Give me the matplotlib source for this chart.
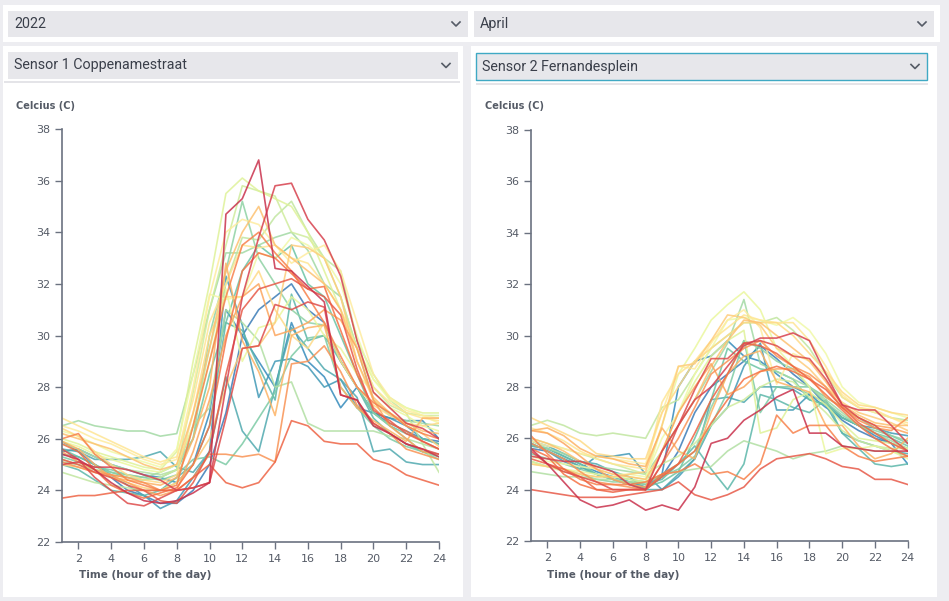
import numpy as np
import matplotlib
matplotlib.use("Agg")
import matplotlib.pyplot as plt
from matplotlib.patches import Rectangle
from matplotlib.lines import Line2D

# --- DATA ---
hours = list(range(1, 25))
x_ticks = list(range(2, 25, 2))
y_ticks = list(range(22, 39, 2))

year_label = "2022"
month_label = "April"
sensor_left = "Sensor 1 Coppenamestraat"
sensor_right = "Sensor 2 Fernandesplein"
y_title = "Celcius (C)"
x_title = "Time (hour of the day)"

# one row per day of April, hourly temperature (C)
temps_left = [
    [25.4, 25.2, 24.8, 24.3, 23.9, 23.6, 23.5, 23.6, 23.9, 24.3, 34.7, 35.3, 36.8, 32.6, 32.5, 31.9, 31.3, 27.7, 27.5, 26.5, 26.2, 25.8, 25.6, 25.3],
    [25.0, 25.1, 24.9, 24.9, 24.8, 24.6, 24.4, 24.0, 24.1, 24.3, 28.0, 31.5, 33.8, 35.8, 35.9, 34.5, 33.7, 32.3, 29.8, 27.8, 27.2, 26.6, 26.4, 26.0],
    [25.6, 25.2, 24.5, 24.0, 23.5, 23.4, 23.7, 24.0, 24.1, 24.3, 26.8, 29.5, 29.6, 31.2, 31.0, 31.3, 31.1, 27.7, 27.5, 26.6, 26.2, 25.8, 25.6, 25.4],
    [25.2, 25.0, 24.7, 24.5, 24.2, 24.0, 23.6, 23.5, 24.3, 25.5, 28.5, 31.0, 31.8, 32.0, 32.2, 31.8, 31.5, 30.8, 28.7, 27.1, 26.7, 26.2, 25.9, 25.6],
    [23.7, 23.8, 23.8, 23.9, 24.0, 24.0, 24.0, 24.0, 24.5, 25.0, 24.3, 24.1, 24.3, 25.1, 26.7, 26.5, 25.9, 25.8, 25.8, 25.2, 25.0, 24.6, 24.4, 24.2],
    [25.8, 25.5, 24.8, 24.2, 23.9, 23.7, 23.9, 24.1, 25.0, 26.5, 29.8, 32.5, 33.2, 33.0, 32.4, 31.8, 31.9, 30.2, 28.5, 27.2, 26.6, 26.3, 25.9, 25.6],
    [26.0, 26.2, 25.4, 24.9, 24.4, 24.2, 24.0, 24.2, 26.5, 29.0, 31.5, 33.5, 34.0, 33.2, 32.5, 31.5, 30.5, 29.2, 28.0, 27.4, 27.0, 26.5, 26.2, 26.0],
    [25.1, 24.9, 24.7, 24.6, 24.5, 24.3, 24.0, 24.0, 24.5, 25.4, 25.4, 25.3, 25.4, 25.1, 28.9, 29.0, 29.6, 28.6, 27.3, 26.6, 26.2, 25.6, 25.4, 25.2],
    [25.5, 25.1, 24.8, 24.6, 24.3, 24.0, 23.8, 24.0, 25.5, 27.5, 30.0, 31.5, 32.0, 30.0, 30.2, 30.5, 31.0, 30.6, 29.5, 27.5, 26.5, 26.0, 25.5, 25.4],
    [25.9, 25.6, 25.0, 24.5, 24.4, 24.3, 24.2, 24.5, 26.0, 28.0, 32.8, 29.8, 28.6, 26.9, 30.0, 30.3, 30.4, 28.0, 27.2, 26.7, 26.3, 25.9, 26.8, 26.8],
    [26.2, 26.0, 25.8, 25.6, 25.3, 25.0, 24.8, 25.0, 27.0, 29.5, 32.5, 34.0, 35.0, 33.5, 33.0, 32.5, 32.0, 31.0, 29.0, 27.6, 27.0, 26.6, 26.3, 26.2],
    [25.0, 24.9, 24.7, 24.5, 24.3, 24.1, 24.0, 24.3, 25.0, 26.0, 28.0, 29.5, 29.6, 30.5, 33.5, 33.4, 33.0, 31.5, 29.0, 27.5, 27.0, 26.5, 26.2, 25.7],
    [26.4, 26.1, 25.5, 25.0, 24.6, 24.4, 24.3, 24.6, 27.0, 30.0, 31.5, 31.5, 32.5, 31.0, 30.0, 29.5, 30.5, 29.0, 28.0, 27.3, 26.9, 26.6, 26.5, 26.6],
    [26.8, 26.5, 26.2, 25.9, 25.6, 25.3, 25.1, 25.3, 27.5, 30.5, 32.0, 33.5, 33.4, 33.5, 33.0, 32.8, 32.0, 31.0, 29.5, 28.0, 27.4, 27.0, 26.8, 26.7],
    [26.5, 26.3, 26.0, 25.8, 25.5, 25.2, 25.0, 25.2, 28.0, 31.5, 34.0, 34.5, 34.3, 33.5, 32.8, 33.2, 33.5, 32.5, 30.5, 28.5, 27.6, 27.1, 26.9, 26.8],
    [26.3, 26.1, 25.8, 25.5, 25.3, 25.1, 24.9, 25.6, 28.5, 31.6, 31.4, 31.5, 33.2, 33.0, 33.8, 33.5, 33.0, 32.0, 30.0, 28.3, 27.5, 27.2, 26.9, 26.6],
    [25.9, 25.7, 25.4, 25.2, 25.0, 24.8, 24.7, 25.0, 26.5, 29.0, 31.8, 29.0, 30.3, 30.5, 31.5, 31.0, 30.0, 29.5, 28.5, 27.8, 27.2, 26.9, 26.5, 26.3],
    [26.0, 25.8, 25.5, 25.3, 25.1, 24.9, 24.8, 25.5, 29.0, 32.0, 35.5, 36.1, 35.6, 35.3, 35.0, 34.0, 32.5, 31.0, 29.5, 28.3, 27.6, 27.2, 27.0, 27.0],
    [25.2, 25.0, 24.8, 24.6, 24.5, 24.4, 24.5, 24.8, 27.8, 31.0, 33.5, 35.8, 35.6, 35.4, 34.0, 33.8, 33.0, 31.5, 29.5, 28.0, 27.3, 27.0, 26.9, 26.9],
    [24.7, 24.5, 24.3, 24.2, 24.1, 24.0, 24.0, 24.3, 26.5, 29.5, 32.0, 33.8, 33.7, 34.6, 35.2, 34.0, 33.0, 32.5, 29.8, 28.5, 27.5, 27.0, 25.8, 24.7],
    [25.8, 25.6, 25.3, 25.0, 24.8, 24.7, 24.6, 24.8, 26.5, 27.2, 31.0, 30.5, 29.8, 28.0, 28.2, 26.6, 26.3, 26.3, 26.3, 26.3, 26.1, 26.0, 25.8, 25.6],
    [26.5, 26.7, 26.5, 26.4, 26.3, 26.3, 26.1, 26.2, 28.5, 31.0, 33.2, 33.2, 33.5, 33.8, 34.0, 33.3, 32.0, 31.5, 29.5, 27.5, 26.9, 26.7, 26.6, 26.5],
    [25.1, 25.0, 24.8, 24.7, 24.6, 24.5, 24.7, 25.0, 26.0, 30.0, 32.5, 35.2, 33.0, 32.0, 31.0, 30.5, 30.4, 29.0, 28.0, 27.0, 26.5, 26.0, 25.5, 25.2],
    [25.3, 25.1, 24.9, 24.8, 24.6, 24.5, 24.4, 24.6, 25.2, 25.3, 25.0, 25.8, 26.8, 27.8, 29.2, 29.9, 30.0, 28.0, 27.2, 26.5, 26.0, 25.7, 25.5, 25.3],
    [25.6, 25.3, 25.0, 24.7, 24.5, 24.4, 24.5, 24.8, 26.0, 28.5, 30.5, 32.5, 33.5, 33.0, 33.5, 32.0, 31.5, 30.0, 28.5, 27.0, 26.5, 26.2, 26.0, 25.8],
    [25.0, 24.8, 24.4, 24.0, 23.9, 23.8, 24.0, 24.5, 25.0, 26.5, 30.5, 30.2, 28.8, 27.5, 31.6, 29.8, 30.0, 29.0, 28.0, 26.8, 26.2, 25.8, 25.5, 25.4],
    [25.6, 25.5, 25.2, 25.2, 25.2, 25.3, 25.5, 24.9, 24.7, 25.5, 28.4, 26.3, 25.5, 28.0, 30.3, 29.5, 28.7, 28.3, 27.6, 25.5, 25.6, 25.1, 25.0, 25.0],
    [25.4, 25.3, 25.0, 24.6, 24.2, 23.8, 23.3, 23.6, 24.5, 25.5, 32.3, 30.4, 27.6, 29.0, 29.1, 28.8, 28.0, 28.3, 27.2, 27.0, 26.8, 26.5, 26.0, 25.8],
    [25.5, 25.6, 25.3, 25.0, 24.8, 24.6, 24.5, 24.3, 25.0, 27.0, 31.0, 30.0, 29.0, 28.0, 30.5, 29.0, 28.4, 27.2, 28.0, 27.0, 26.8, 26.7, 26.7, 26.0],
    [25.9, 25.5, 25.0, 24.5, 24.0, 23.8, 23.5, 23.5, 24.0, 25.0, 27.0, 30.0, 31.0, 31.5, 32.0, 31.0, 30.5, 29.0, 28.0, 27.0, 26.6, 26.3, 26.0, 25.9],
]

temps_right = [
    [25.6, 25.0, 24.3, 23.6, 23.3, 23.4, 23.6, 23.2, 23.4, 23.2, 24.1, 25.8, 26.0, 26.7, 27.1, 27.6, 27.9, 26.2, 26.2, 25.7, 25.6, 25.5, 25.5, 25.5],
    [25.3, 25.2, 25.1, 25.1, 24.9, 24.7, 24.2, 24.0, 25.5, 26.5, 27.5, 28.0, 28.8, 29.6, 29.9, 29.9, 30.1, 29.8, 28.5, 27.3, 27.1, 27.1, 26.5, 25.8],
    [25.5, 25.0, 24.7, 24.5, 24.3, 24.0, 24.0, 24.0, 25.0, 26.5, 27.9, 29.1, 29.1, 29.7, 29.8, 29.6, 29.2, 29.1, 28.3, 27.3, 26.8, 26.5, 26.0, 25.5],
    [24.0, 23.9, 23.8, 23.7, 23.7, 23.7, 23.8, 23.9, 24.0, 24.3, 23.8, 23.6, 23.8, 24.1, 24.8, 25.2, 25.3, 25.4, 25.2, 24.9, 24.8, 24.4, 24.4, 24.2],
    [25.2, 25.0, 24.8, 24.5, 24.0, 23.9, 24.0, 24.0, 24.5, 25.0, 26.2, 27.5, 28.5, 29.7, 29.6, 29.3, 28.8, 28.3, 27.9, 27.2, 26.6, 26.2, 25.8, 25.5],
    [25.6, 25.3, 24.6, 24.2, 24.0, 24.0, 24.0, 24.0, 24.6, 25.0, 25.5, 26.6, 27.5, 28.3, 28.6, 28.8, 28.6, 28.3, 27.7, 27.1, 26.5, 26.0, 25.6, 25.3],
    [26.1, 25.4, 24.8, 24.4, 24.2, 24.2, 24.2, 24.3, 24.6, 24.7, 25.0, 24.6, 24.7, 24.4, 25.0, 26.9, 26.2, 26.5, 26.5, 25.7, 25.3, 25.1, 25.2, 25.3],
    [25.8, 25.5, 25.2, 24.7, 24.3, 24.2, 24.1, 24.0, 25.0, 26.0, 27.2, 28.5, 29.0, 29.5, 29.8, 29.2, 28.8, 28.5, 28.0, 27.2, 26.7, 26.4, 26.3, 26.8],
    [26.3, 26.2, 25.8, 25.3, 24.8, 24.4, 24.2, 24.1, 25.5, 27.0, 28.0, 28.9, 27.7, 28.0, 28.6, 28.7, 28.7, 28.4, 27.6, 27.2, 26.8, 26.5, 26.4, 26.2],
    [26.3, 26.4, 26.1, 25.6, 25.3, 25.2, 25.0, 24.9, 26.4, 25.5, 25.2, 27.0, 28.5, 29.2, 29.4, 28.2, 28.0, 27.8, 26.5, 26.5, 25.7, 25.2, 25.4, 26.0],
    [26.0, 25.8, 25.5, 25.1, 24.8, 24.6, 24.5, 24.4, 25.5, 26.5, 27.5, 28.8, 29.8, 30.6, 30.5, 30.0, 29.5, 29.0, 28.2, 27.3, 26.9, 26.6, 26.5, 26.5],
    [25.0, 24.9, 24.8, 24.6, 24.5, 24.5, 24.6, 24.7, 26.5, 28.8, 28.9, 29.8, 30.8, 30.7, 30.4, 29.5, 29.2, 28.7, 28.0, 27.4, 27.0, 26.8, 26.6, 26.3],
    [26.8, 26.5, 26.2, 25.9, 25.4, 25.3, 25.2, 25.2, 27.0, 28.0, 29.0, 29.5, 30.0, 30.5, 30.5, 30.5, 30.0, 29.3, 28.6, 27.8, 27.3, 27.2, 27.0, 26.9],
    [26.4, 26.2, 25.9, 25.5, 25.2, 25.0, 24.9, 24.8, 27.4, 28.5, 29.0, 29.8, 30.3, 30.8, 30.6, 30.5, 30.5, 29.8, 28.8, 27.6, 27.2, 27.1, 26.8, 26.6],
    [25.9, 25.7, 25.6, 25.4, 25.3, 25.2, 25.1, 25.0, 27.0, 28.8, 28.7, 29.7, 30.6, 31.0, 30.3, 28.1, 29.3, 29.0, 28.5, 27.7, 27.2, 27.0, 26.8, 26.5],
    [25.3, 25.1, 25.0, 24.9, 24.8, 24.6, 24.6, 24.5, 26.0, 27.0, 28.5, 29.5, 30.6, 30.7, 30.6, 30.4, 30.7, 30.2, 29.3, 28.0, 27.4, 27.2, 27.0, 26.8],
    [25.0, 24.9, 24.8, 24.7, 24.6, 24.5, 24.5, 24.4, 26.5, 28.5, 29.5, 30.6, 31.2, 31.7, 31.0, 29.5, 28.8, 28.0, 25.4, 25.6, 25.6, 25.7, 25.5, 25.2],
    [25.1, 24.9, 24.7, 24.6, 24.5, 24.5, 24.4, 24.3, 25.5, 27.0, 28.2, 29.2, 29.8, 30.2, 26.2, 26.4, 27.5, 27.8, 27.3, 26.6, 26.0, 25.9, 25.8, 25.6],
    [26.0, 25.8, 25.6, 25.4, 25.2, 25.0, 24.8, 24.6, 25.0, 25.3, 25.8, 26.5, 27.2, 27.5, 28.0, 28.3, 28.2, 27.6, 27.0, 26.3, 25.9, 25.7, 25.6, 25.6],
    [26.5, 26.7, 26.5, 26.2, 26.1, 26.2, 26.1, 26.0, 27.2, 27.5, 28.5, 29.5, 30.0, 30.5, 30.5, 30.7, 30.2, 29.5, 28.5, 27.6, 27.2, 27.0, 26.8, 26.7],
    [24.7, 24.6, 24.5, 24.5, 24.4, 24.4, 24.3, 24.3, 24.6, 24.7, 24.8, 24.9, 25.5, 25.9, 25.7, 25.5, 25.2, 25.4, 25.5, 25.7, 25.6, 25.5, 25.5, 25.3],
    [25.9, 25.6, 25.4, 25.1, 24.9, 24.8, 24.7, 24.6, 25.5, 26.5, 27.5, 28.6, 29.7, 31.4, 28.9, 28.6, 28.3, 28.0, 27.5, 27.0, 26.5, 26.2, 25.9, 25.6],
    [25.1, 24.9, 24.8, 24.6, 24.4, 24.3, 24.3, 24.2, 24.6, 25.0, 25.5, 27.2, 28.5, 29.8, 29.5, 29.0, 28.7, 28.0, 27.4, 26.9, 26.5, 26.3, 26.1, 25.9],
    [25.4, 25.2, 25.0, 24.8, 24.6, 24.5, 24.4, 24.3, 24.5, 24.8, 25.3, 26.5, 27.8, 29.8, 27.0, 28.0, 28.0, 28.0, 27.6, 27.2, 26.8, 26.4, 26.1, 25.8],
    [25.7, 25.6, 25.3, 25.0, 24.6, 24.4, 24.2, 24.1, 24.3, 24.7, 26.0, 27.5, 29.5, 29.0, 28.7, 28.6, 28.3, 27.5, 27.3, 26.8, 26.5, 26.2, 26.0, 25.7],
    [25.8, 25.5, 25.2, 24.9, 24.6, 24.4, 24.3, 24.2, 24.4, 25.0, 25.7, 24.8, 24.0, 25.0, 27.7, 27.5, 27.2, 27.0, 27.5, 26.2, 25.6, 25.0, 24.9, 25.0],
    [25.9, 25.7, 25.4, 25.1, 25.0, 24.7, 24.5, 24.0, 24.0, 24.6, 25.2, 27.5, 27.6, 27.4, 28.0, 28.0, 27.9, 27.5, 27.3, 26.2, 25.9, 25.7, 25.5, 25.4],
    [25.8, 25.5, 25.1, 24.8, 25.3, 25.3, 25.4, 24.6, 24.0, 24.5, 25.2, 26.5, 27.2, 28.8, 29.7, 27.1, 27.1, 27.7, 27.4, 26.8, 26.5, 26.4, 26.2, 26.1],
    [25.7, 25.6, 25.3, 25.0, 24.7, 24.5, 24.3, 24.1, 24.6, 28.0, 29.0, 29.2, 29.8, 29.2, 29.0, 28.5, 28.0, 27.7, 27.2, 26.8, 26.5, 26.1, 25.8, 25.0],
    [25.6, 25.5, 25.2, 24.9, 24.6, 24.4, 24.2, 24.0, 24.5, 25.5, 27.0, 28.0, 28.5, 29.0, 29.6, 29.1, 28.5, 28.0, 27.3, 26.7, 26.3, 26.0, 25.8, 25.6],
]

# --- FIGURE / DASHBOARD FRAME ---
W, H = 949, 601
fig = plt.figure(figsize=(W / 100, H / 100), dpi=100)
fig.patch.set_facecolor('#ededf1')

ui_font = 'Roboto'
axis_color = '#6b7280'
text_color = '#555b66'


def px_rect(x0, y0, x1, y1, **kw):
    # rectangle given in pixel coords with y measured from the top
    r = Rectangle((x0 / W, 1 - y1 / H), (x1 - x0) / W, (y1 - y0) / H,
                  transform=fig.transFigure, zorder=-10, **kw)
    fig.add_artist(r)


def dropdown(x0, y0, x1, y1, label, edge=None):
    px_rect(x0, y0, x1, y1, facecolor='#e7e7eb',
            edgecolor=edge if edge else '#e7e7eb', linewidth=1 if edge else 0)
    cy = (y0 + y1) / 2
    fig.text((x0 + 6) / W, 1 - cy / H, label, ha='left', va='center',
             fontsize=10.3, color='#3a3f4a', family=ui_font)
    cx = x1 - 12
    fig.add_artist(Line2D([(cx - 4) / W, cx / W, (cx + 4) / W],
                          [1 - (cy - 2) / H, 1 - (cy + 2) / H, 1 - (cy - 2) / H],
                          transform=fig.transFigure, color='#555b66', linewidth=1.2))


# white panels
px_rect(3, 5, 940, 42, facecolor='white', edgecolor='none')
px_rect(3, 46, 463, 597, facecolor='white', edgecolor='none')
px_rect(471, 46, 937, 597, facecolor='white', edgecolor='none')

dropdown(8, 11, 468, 37, year_label)
dropdown(474, 11, 934, 37, month_label)
dropdown(8, 52, 458, 79, sensor_left)
dropdown(476, 53, 927, 80, sensor_right, edge='#3fa9c4')

# thin separators under the sensor selectors
px_rect(4, 81, 460, 82.5, facecolor='#e4e4e8', edgecolor='none')
px_rect(476, 83, 928, 84.5, facecolor='#e4e4e8', edgecolor='none')

# --- CHARTS ---
# spectral palette, skipping the washed-out middle so pale lines stay visible
n_days = len(temps_left)
half = n_days // 2
colors = np.vstack([plt.cm.Spectral(np.linspace(0.08, 0.44, half)),
                    plt.cm.Spectral(np.linspace(0.56, 0.92, n_days - half))])


def draw_panel(ax, temps, title_x, xlabel_x):
    for i in reversed(range(len(temps))):
        ax.plot(hours, temps[i], color=colors[i], linewidth=1.2, alpha=0.85)
    ax.set_xlim(1, 24)
    ax.set_ylim(22, 38)
    ax.set_xticks(x_ticks)
    ax.set_yticks(y_ticks)
    ax.spines['top'].set_visible(False)
    ax.spines['right'].set_visible(False)
    for s in ('left', 'bottom'):
        ax.spines[s].set_color(axis_color)
        ax.spines[s].set_linewidth(1.2)
    ax.tick_params(colors=axis_color, labelcolor=text_color, labelsize=8,
                   length=5, width=1, direction='out')
    ax.set_facecolor('none')
    fig.text(title_x / W, 1 - 106 / H, y_title, ha='left', va='center',
             fontsize=7, fontweight='bold', color=text_color)
    fig.text(xlabel_x / W, 1 - 575 / H, x_title, ha='left', va='center',
             fontsize=7.5, fontweight='bold', color=text_color)


ax1 = fig.add_axes([62 / W, 1 - 542 / H, 377 / W, 413 / H])
draw_panel(ax1, temps_left, 16, 79)

ax2 = fig.add_axes([531 / W, 1 - 541 / H, 376.7 / W, 411 / H])
draw_panel(ax2, temps_right, 485, 547)

fig.savefig('out.png', dpi=100, facecolor=fig.get_facecolor())
